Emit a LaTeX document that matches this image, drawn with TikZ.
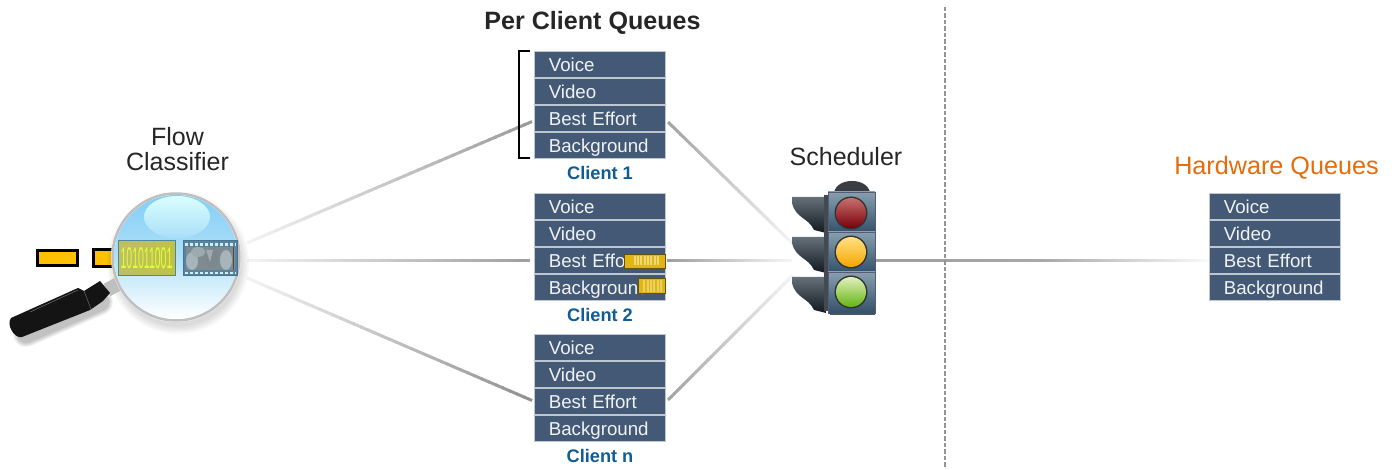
\documentclass[tikz,border=0pt]{standalone}
\usepackage{fontspec}
\usepackage{graphicx}
\setmainfont{Liberation Sans}
\usetikzlibrary{calc,positioning}
\definecolor{qblue}{RGB}{67,89,118}
\definecolor{qedge}{RGB}{190,198,210}
\definecolor{clientblue}{RGB}{18,92,150}
\definecolor{hworange}{RGB}{228,108,10}
\definecolor{pkt}{RGB}{255,192,0}
\definecolor{pktq}{RGB}{226,182,16}
\tikzset{
  x=1pt,y=-1pt,
  qrow/.style={fill=qblue,draw=qedge,line width=0.6pt,minimum width=131pt,minimum height=26pt,inner sep=0pt,
    text=white!92!qblue,font=\fontsize{18.7}{20}\selectfont,anchor=north west,align=left,text width=116pt,inner xsep=0pt,
    text depth=0pt},
  clientlabel/.style={text=clientblue,font=\fontsize{18.2}{20}\selectfont\bfseries,inner sep=0pt},
  headlabel/.style={text=black!85,font=\fontsize{25}{25}\selectfont,inner sep=0pt,align=center},
  packet/.style={fill=pkt,draw=black,line width=3pt},
  qpacket/.style={fill=pktq,draw=black!55!pktq,line width=0.8pt},
}
% queue block: name, left x, top y
\newcommand{\queueblock}[3]{%
  \node[qrow] (#11) at (#2,#3) {\hspace*{7pt}\rule{0pt}{14pt}Voice};
  \node[qrow] (#12) at (#2,#3+27) {\hspace*{7pt}\rule{0pt}{14pt}Video};
  \node[qrow] (#13) at (#2,#3+54) {\hspace*{7pt}\rule{0pt}{14pt}Best Effort};
  \node[qrow] (#14) at (#2,#3+81) {\hspace*{7pt}\rule{0pt}{14pt}Background};
}
\newcommand{\fadeline}[4]{%
  \foreach \i in {0,...,39}{%
    \pgfmathsetmacro{\ta}{\i/40}%
    \pgfmathsetmacro{\tb}{(\i+1.15)/40}%
    \pgfmathsetmacro{\pc}{#3+(#4-#3)*\ta}%
    \draw[line width=3pt,color=black!\pc!white,line cap=butt] ($(#1)!\ta!(#2)$) -- ($(#1)!\tb!(#2)$);
  }%
}
\begin{document}
\begin{tikzpicture}
\useasboundingbox (0,0) rectangle (1397,470);
\fill[white] (0,0) rectangle (1397,470);

\coordinate (lensT) at (247,243);
\coordinate (lensM) at (247,261);
\coordinate (lensB) at (247,278);
\coordinate (schedT) at (792,243);
\coordinate (schedM) at (792,261);
\coordinate (schedB) at (792,276);
\coordinate (c1in) at (531,122);
\coordinate (c2in) at (529,261);
\coordinate (c3in) at (531,400);
\coordinate (c1out) at (668,122);
\coordinate (c2out) at (667,261);
\coordinate (c3out) at (668,400);
\coordinate (lightR) at (874,261);
\coordinate (lightMid) at (1040,261);
\coordinate (hwin) at (1209,261);

\fadeline{lensT}{c1in}{5}{40}
\fadeline{lensM}{c2in}{5}{38}
\fadeline{lensB}{c3in}{5}{44}
\fadeline{c1out}{schedT}{36}{4}
\fadeline{c2out}{schedM}{38}{3}
\fadeline{c3out}{schedB}{36}{4}
\fadeline{lightR}{lightMid}{38}{34}
\fadeline{lightMid}{hwin}{34}{2}

\coordinate (divT) at (945,7);
\coordinate (divB) at (945,467);
\draw[black!42,line width=2pt,dash pattern=on 4.5pt off 2pt] (divT) -- (divB);

\node[headlabel,font=\fontsize{25.1}{29}\selectfont\bfseries] (title) at (592.5,23) {Per Client Queues};
\node[headlabel] (flow) at (177.5,149) {Flow\\Classifier};
\node[headlabel] (sched) at (846,157) {Scheduler};
\node[headlabel,text=hworange,font=\fontsize{25.2}{30}\selectfont] (hwq) at (1276.5,168) {Hardware Queues};

\queueblock{ca}{534}{51}
\queueblock{cb}{534}{193}
\queueblock{cc}{534}{334}
\queueblock{hw}{1209}{193}
\node[clientlabel] (la) at (600,173) {Client 1};
\node[clientlabel] (lb) at (600,315) {Client 2};
\node[clientlabel] (lc) at (600,456) {Client n};

\coordinate (brA) at (530,51);
\coordinate (brB) at (518.5,51);
\coordinate (brC) at (518.5,158.5);
\coordinate (brD) at (530,158.5);
\draw[black,line width=2pt] (brA) -- (brB) -- (brC) -- (brD);

\node[qpacket,minimum width=41pt,minimum height=14pt,inner sep=0pt] (p1) at (644.5,261) {};
\node[qpacket,minimum width=27pt,minimum height=15pt,inner sep=0pt] (p2) at (651.5,286) {};
\foreach \xx in {634,637,640,644,647,650,654,657}{\fill[white!45!pktq] (\xx,256.5) rectangle ++(2,9);}
\foreach \xx in {643,647,650,653,657,660}{\fill[white!35!pktq] (\xx,280) rectangle ++(2,12);}

\node[packet,minimum width=40pt,minimum height=15pt,inner sep=0pt] (pa) at (57,258) {};
\draw[packet] (115,250) -- (93.5,250) -- (93.5,266.5) -- (115,266.5);
\fill[pkt] (95,251.5) rectangle (116,265);

% magnifier shadows
\foreach \k in {1,...,5}{\draw[black,opacity=0.05,line width=16+2*\k,line cap=round] (26,334) -- (100,302);}
\foreach \k in {1,...,6}{\fill[black,opacity=0.025] (178,263) circle (62+1.5*\k);}
% handle
\draw[white!75!black,line width=14pt] (107,290) -- (118,284);
\fill[black!92] (11,318) -- (78,288) -- (84,291) -- (100,281) -- (110,293) -- (103,301) -- (90,310) -- (22,337)
   .. controls (14,339) and (6,324) .. (11,318) -- cycle;
\draw[black!65,line width=0.7pt] (84,291) -- (91,309);
\draw[black!55,line width=0.5pt] (30,312) -- (78,290);
% lens
\fill[white] (176,257) circle (65);
\shade[top color={rgb,255:red,130;green,205;blue,246},bottom color=white,middle color={rgb,255:red,175;green,225;blue,248}] (176,257) circle (62);
\draw[black!25,line width=2.5pt] (176,257) circle (63.5);
\shade[top color=white!85!cyan,bottom color={rgb,255:red,170;green,222;blue,248}] (177,217) ellipse (33 and 21);
% binary card
\shade[left color={rgb,255:red,190;green,190;blue,100},right color={rgb,255:red,190;green,195;blue,70}] (118,240.5) rectangle (175,276);
\node[draw={rgb,255:red,80;green,135;blue,150},line width=1pt,minimum width=57pt,minimum height=35.5pt,inner sep=0pt] (bits) at (146.5,258.2) {\scalebox{0.42}[1.2]{\fontsize{25}{25}\selectfont\textcolor{white!65!green!35!yellow}{101011001}}};
% film card
\node[fill={rgb,255:red,90;green,130;blue,155},draw={rgb,255:red,70;green,115;blue,145},line width=1pt,minimum width=54pt,minimum height=35pt,inner sep=0pt] (film) at (210,258.5) {};
\fill[black!45!cyan!25!gray] (186,247) rectangle (235,270);
\fill[white!70!cyan!40!gray] (192,261) ellipse (6 and 9);
\fill[white!60!cyan!30!gray] (198,252) ellipse (7 and 5);
\fill[white!70!cyan!40!gray] (226,260) ellipse (6 and 10);
\fill[black!50!cyan!30!gray] (212,258) ellipse (6 and 11);
\fill[white!70!cyan!30!gray] (206,250) -- (210,262) -- (213,250) -- cycle;
\draw[white!80!cyan,line width=2.5pt,dash pattern=on 2.5pt off 2.5pt] (185,244.5) -- (236,244.5);
\draw[white!80!cyan,line width=2.5pt,dash pattern=on 2.5pt off 2.5pt] (185,273) -- (236,273);
\draw[black!70,line width=0.6pt] (233,247) -- (233,270);

% traffic light
\fill[black!85!cyan] (834,193) .. controls (836,177) and (868,177) .. (870,193) -- cycle;
\foreach \vy in {197,237,277}{
  \shade[top color={rgb,255:red,100;green,112;blue,122},bottom color={rgb,255:red,18;green,24;blue,30}] (792,\vy) -- (826,\vy) -- (826,\vy+36) -- (814,\vy+33) .. controls (808,\vy+20) and (796,\vy+22) .. (792,\vy+6) -- cycle;
}
\fill[black!78!cyan] (824,195) rectangle (830,311);
\foreach \cy/\cn in {192/a,232/b,272/c}{
  \shade[top color={rgb,255:red,135;green,160;blue,175},bottom color={rgb,255:red,50;green,80;blue,105}] (828,\cy) rectangle (875,\cy+41);
  \draw[black!60!blue!30!gray,line width=0.8pt] (828,\cy) rectangle (875,\cy+41);
}
\fill[black!70!cyan] (830,313) rectangle (875,315);
\node[circle,minimum size=33pt,inner sep=0pt,fill=black!80] (lr) at (851,213) {};
\node[circle,minimum size=33pt,inner sep=0pt,fill=black!80] (ly) at (851,252) {};
\node[circle,minimum size=33pt,inner sep=0pt,fill=black!80] (lg) at (851,292) {};
\shade[top color={rgb,255:red,200;green,110;blue,110},middle color={rgb,255:red,135;green,10;blue,15},bottom color={rgb,255:red,120;green,0;blue,10}] (851,213) circle (15);
\shade[top color={rgb,255:red,255;green,225;blue,130},middle color={rgb,255:red,255;green,178;blue,10},bottom color={rgb,255:red,245;green,165;blue,0}] (851,252) circle (15);
\shade[top color={rgb,255:red,225;green,240;blue,190},middle color={rgb,255:red,110;green,190;blue,20},bottom color={rgb,255:red,100;green,180;blue,15}] (851,292) circle (15);
\end{tikzpicture}
\end{document}
